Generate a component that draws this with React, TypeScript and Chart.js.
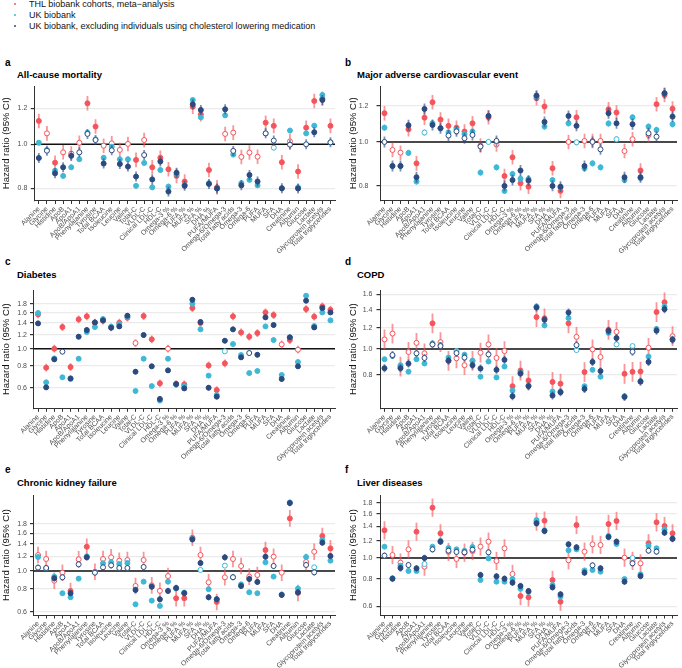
import React, { useEffect, useRef } from 'react';
import { Chart, registerables } from 'chart.js';
Chart.register(...registerables);

const FONT = '"Liberation Sans", Arial, Helvetica, sans-serif';

const categories = ['Alanine', 'Glycine', 'Histidine', 'ApoB', 'ApoA1', 'ApoB/ApoA1', 'Phenylalanine', 'Tyrosine', 'Total BCAA', 'Isoleucine', 'Leucine', 'Valine', 'Total-C', 'VLDL-C', 'Clinical LDL-C', 'HDL-C', 'Omega-3 %', 'Omega-6 %', 'PUFA %', 'MUFA %', 'SFA %', 'DHA %', 'PUFA/MUFA', 'Omega-6/Omega-3', 'Total fatty acids', 'Omega-3', 'Omega-6', 'PUFA', 'MUFA', 'SFA', 'DHA', 'Creatinine', 'Albumin', 'Glucose', 'Lactate', 'Glycoprotein acetyls', 'Total triglycerides'];

const seriesNames = ['THL biobank cohorts, meta\u2212analysis', 'UK biobank', 'UK biobank, excluding individuals using cholesterol lowering medication'];
const seriesColors = ['#F4555C', '#3FB8D6', '#2D4A7F'];
const ciColors = ['rgba(244,85,92,0.62)', 'rgba(63,184,214,0.62)', 'rgba(45,74,127,0.62)'];

// ---- a: All-cause mortality ----
const aTHL = [1.126, 1.057, 0.911, 0.960, 0.954, 1.008, 1.231, 1.094, 0.993, 1.005, 0.972, 1.002, 0.924, 1.022, 0.890, 0.934, 0.881, 0.852, 0.828, 1.210, 1.164, 0.878, 0.804, 1.054, 1.061, 0.938, 0.959, 0.939, 1.116, 1.098, 0.913, 1.015, 0.871, 1.088, 1.246, 1.260, 1.098];
const aUKB = [1.008, 0.972, 0.875, 0.852, 0.890, 0.927, 1.061, 1.025, 0.934, 0.988, 0.927, 0.927, 0.810, 0.910, 0.804, 0.878, 0.807, 0.859, 0.814, 1.252, 1.147, 0.821, 0.799, 1.158, 0.949, 0.821, 0.835, 0.812, 1.057, 0.983, 0.800, 1.072, 0.804, 1.057, 1.099, 1.284, 1.010];
const aUKBx = [0.933, 0.968, 0.863, 0.890, 0.943, 0.960, 1.054, 1.022, 0.907, 0.970, 0.905, 0.893, 0.849, 0.947, 0.837, 0.917, 0.787, 0.866, 0.810, 1.225, 1.190, 0.818, 0.799, 1.194, 0.967, 0.812, 0.856, 0.828, 1.057, 1.019, 0.800, 0.998, 0.799, 1.000, 1.063, 1.252, 1.010];
const aTHLopen = [1, 3, 4, 5, 8, 9, 10, 11, 13, 23, 24, 25, 26, 27, 31];
const aUKBopen = [29];
const aUKBxOpen = [1, 5, 6, 7, 9, 13, 24, 28, 29, 31, 33, 36];

// ---- b: Major adverse cardiovascular event ----
const bTHL = [1.157, 0.960, 0.947, 1.066, 0.897, 1.131, 1.223, 1.120, 1.085, 1.075, 1.054, 1.099, 0.982, 1.133, 0.987, 0.841, 0.925, 0.811, 0.797, 1.248, 1.197, 0.875, 0.780, 1.000, 1.133, 1.005, 1.005, 1.005, 1.180, 1.161, 0.955, 1.014, 0.865, 1.036, 1.211, 1.269, 1.184];
const bUKB = [1.075, 0.885, 0.885, 0.946, 0.818, 1.049, 1.099, 1.072, 1.049, 1.065, 1.040, 1.054, 0.856, 1.000, 0.879, 0.780, 0.850, 0.830, 0.829, 1.259, 1.081, 0.824, 0.793, 1.099, 0.998, 0.875, 0.897, 0.879, 1.098, 1.014, 0.824, 1.133, 0.832, 1.081, 1.063, 1.280, 1.094];
const bUKBx = [1.000, 0.885, 0.885, 1.088, 0.836, 1.182, 1.090, 1.072, 1.033, 1.055, 1.019, 1.036, 0.977, 1.141, 1.005, 0.800, 0.824, 0.865, 0.822, 1.265, 1.107, 0.800, 0.797, 1.141, 1.085, 0.885, 1.000, 0.963, 1.157, 1.099, 0.836, 1.094, 0.836, 1.045, 1.027, 1.280, 1.137];
const bTHLopen = [1, 2, 12, 14, 23, 25, 26, 27, 30, 31, 33];
const bUKBopen = [5, 13, 24, 29];
const bUKBxOpen = [0, 8, 9, 10, 11, 12, 14, 26, 27, 33, 34];

// ---- c: Diabetes ----
const cTHL = [1.567, 0.780, 1.000, 1.328, 0.787, 1.468, 1.527, 1.405, 1.442, 1.322, 1.405, 1.500, 1.077, 1.533, 1.130, 0.636, 1.000, 0.630, 0.627, 1.702, 1.400, 0.804, 0.582, 0.826, 1.527, 1.238, 1.170, 1.227, 1.608, 1.554, 1.058, 1.120, 0.987, 1.680, 1.520, 1.740, 1.666];
const cUKB = [1.595, 0.644, 0.881, 0.688, 0.673, 0.877, 1.244, 1.328, 1.475, 1.334, 1.381, 1.520, 0.575, 0.877, 0.613, 0.507, 0.877, 0.625, 0.613, 1.800, 1.288, 0.703, 0.545, 0.966, 1.063, 0.920, 0.727, 0.747, 1.339, 1.120, 0.709, 1.160, 0.840, 2.000, 1.345, 1.608, 1.449];
const cUKBx = [1.393, 0.603, 0.870, 0.962, 0.678, 1.170, 1.277, 1.411, 1.449, 1.316, 1.339, 1.540, 0.740, 1.196, 0.794, 0.518, 0.753, 0.630, 0.595, 1.898, 1.418, 0.600, 0.534, 1.110, 1.288, 0.893, 0.945, 0.924, 1.507, 1.363, 0.673, 1.160, 0.794, 1.874, 1.322, 1.702, 1.608];
const cTHLopen = [12, 16, 30, 32];
const cUKBopen = [23];
const cUKBxOpen = [3, 26];

// ---- d: COPD ----
const dTHL = [1.086, 1.143, 0.860, 0.975, 1.055, 0.964, 1.248, 1.061, 0.903, 0.923, 0.870, 0.903, 0.969, 1.041, 0.926, 0.983, 0.726, 0.831, 0.763, 1.317, 1.303, 0.753, 0.742, 1.248, 1.111, 0.820, 0.997, 0.934, 1.180, 1.160, 0.808, 0.822, 0.824, 1.011, 1.375, 1.497, 1.117];
const dUKB = [0.916, 0.942, 0.870, 0.823, 0.916, 0.883, 1.050, 1.035, 0.929, 0.983, 0.953, 0.905, 0.788, 0.898, 0.783, 0.860, 0.699, 0.817, 0.730, 1.443, 1.227, 0.693, 0.693, 1.306, 0.991, 0.726, 0.836, 0.788, 1.150, 1.041, 0.665, 1.026, 0.759, 0.937, 1.190, 1.443, 1.090];
const dUKBx = [0.848, 0.950, 0.848, 0.882, 0.964, 0.926, 1.040, 1.026, 0.905, 0.966, 0.929, 0.870, 0.846, 0.955, 0.836, 0.911, 0.666, 0.810, 0.726, 1.431, 1.288, 0.670, 0.689, 1.371, 1.035, 0.709, 0.895, 0.827, 1.170, 1.100, 0.662, 0.977, 0.755, 0.895, 1.172, 1.411, 1.083];
const dTHLopen = [0, 1, 2, 3, 4, 5, 7, 8, 9, 10, 12, 13, 14, 15, 24, 26, 27, 29, 33, 36];
const dUKBopen = [9, 24, 29, 31];
const dUKBxOpen = [1, 4, 5, 6, 7, 9, 10, 13, 24, 31];

// ---- e: Chronic kidney failure ----
const eTHL = [1.221, 1.162, 0.886, 0.979, 0.779, 1.157, 1.355, 0.990, 1.162, 1.186, 1.138, 1.147, 0.829, 1.147, 0.835, 0.780, 0.939, 0.711, 0.711, 1.516, 1.221, 0.868, 0.679, 0.924, 1.162, 1.064, 0.932, 0.951, 1.300, 1.196, 0.979, 1.931, 0.760, 1.120, 1.273, 1.549, 1.327];
const eUKB = [1.191, 1.034, 0.932, 0.757, 0.720, 0.909, 1.201, 0.985, 1.100, 1.114, 1.091, 1.105, 0.659, 0.875, 0.690, 0.646, 0.875, 0.802, 0.763, 1.500, 1.013, 0.796, 0.702, 1.069, 0.924, 0.846, 0.766, 0.757, 1.114, 0.932, 0.745, 2.360, 0.802, 1.191, 1.047, 1.473, 1.138];
const eUKBx = [1.043, 1.038, 0.912, 0.924, 0.757, 1.087, 1.186, 0.979, 1.047, 1.073, 1.038, 1.038, 0.789, 1.051, 0.822, 0.702, 0.779, 0.809, 0.757, 1.485, 1.105, 0.720, 0.702, 1.186, 0.925, 0.829, 0.905, 0.872, 1.196, 1.064, 0.741, 2.338, 0.766, 1.078, 0.983, 1.425, 1.206];
const eTHLopen = [0, 1, 2, 3, 5, 7, 8, 9, 10, 11, 12, 13, 14, 15, 16, 20, 21, 23, 24, 25, 26, 27, 29, 30, 33, 34];
const eUKBopen = [20, 23, 34];
const eUKBxOpen = [0, 1, 3, 5, 7, 8, 9, 10, 11, 13, 24, 29, 33, 34];

// ---- f: Liver diseases ----
const fTHL = [1.341, 1.032, 0.952, 1.096, 1.322, 0.912, 1.706, 1.299, 1.066, 0.990, 1.058, 1.077, 1.128, 1.189, 0.969, 1.108, 0.844, 0.668, 0.659, 1.470, 1.486, 0.792, 0.629, 0.976, 1.419, 1.070, 1.156, 1.148, 1.434, 1.481, 1.004, 0.970, 0.945, 1.170, 1.460, 1.404, 1.299];
const fUKB = [1.128, 0.806, 0.922, 0.871, 0.871, 0.938, 1.128, 1.200, 1.112, 1.096, 1.081, 1.124, 0.792, 0.996, 0.778, 0.778, 0.800, 0.722, 0.697, 1.496, 1.340, 0.751, 0.664, 1.085, 1.096, 0.877, 0.880, 0.865, 1.263, 1.160, 0.800, 1.000, 0.841, 1.140, 1.108, 1.355, 1.227];
const fUKBx = [1.025, 0.803, 0.899, 0.928, 0.896, 1.000, 1.096, 1.189, 1.081, 1.066, 1.062, 1.092, 0.835, 1.062, 0.823, 0.803, 0.770, 0.743, 0.704, 1.444, 1.331, 0.733, 0.680, 1.156, 1.120, 0.856, 0.925, 0.896, 1.250, 1.189, 0.778, 0.945, 0.826, 1.081, 1.070, 1.308, 1.227];
const fTHLopen = [1, 2, 3, 5, 8, 9, 10, 11, 12, 13, 14, 15, 16, 23, 25, 26, 27, 30, 31, 32];
const fUKBopen = [5, 31];
const fUKBxOpen = [0, 3, 6, 8, 9, 10, 11, 13, 26, 31, 33, 34];

type PanelCfg = {
  letter: string; title: string; left: number; width: number; axisX: number; plotRight: number;
  canvasTop: number; canvasBottom: number; plotTop: number; plotBottom: number;
  yMin: number; yMax: number; yTicks: number[]; values: number[][]; open: number[][];
  ci: number[]; tickPad: number; titlePad: number; letterY: number; titleY: number;
};

const panels: PanelCfg[] = [
  { letter: 'a', title: 'All-cause mortality', left: 0, width: 340, axisX: 34.3, plotRight: 335.4,
    canvasTop: 78, canvasBottom: 256, plotTop: 86, plotBottom: 200.5, yMin: 0.752, yMax: 1.344,
    yTicks: [0.8, 1.0, 1.2], values: [aTHL, aUKB, aUKBx], open: [aTHLopen, aUKBopen, aUKBxOpen],
    ci: [0.016, 0.006, 0.011], tickPad: 3.5, titlePad: 0.5, letterY: 63, titleY: 75 },
  { letter: 'b', title: 'Major adverse cardiovascular event', left: 340, width: 342, axisX: 380, plotRight: 681.5,
    canvasTop: 78, canvasBottom: 256, plotTop: 86, plotBottom: 200.5, yMin: 0.743, yMax: 1.328,
    yTicks: [0.8, 1.0, 1.2], values: [bTHL, bUKB, bUKBx], open: [bTHLopen, bUKBopen, bUKBxOpen],
    ci: [0.016, 0.007, 0.012], tickPad: 8, titlePad: 8, letterY: 63, titleY: 75 },
  { letter: 'c', title: 'Diabetes', left: 0, width: 340, axisX: 33.5, plotRight: 335.4,
    canvasTop: 284, canvasBottom: 462, plotTop: 290, plotBottom: 408.3, yMin: 0.4585, yMax: 2.156,
    yTicks: [0.6, 0.8, 1.0, 1.2, 1.4, 1.6, 1.8], values: [cTHL, cUKB, cUKBx], open: [cTHLopen, cUKBopen, cUKBxOpen],
    ci: [0.022, 0.007, 0.015], tickPad: 3, titlePad: 0.5, letterY: 262, titleY: 275 },
  { letter: 'd', title: 'COPD', left: 340, width: 342, axisX: 380, plotRight: 681.5,
    canvasTop: 284, canvasBottom: 462, plotTop: 290, plotBottom: 408.3, yMin: 0.6067, yMax: 1.664,
    yTicks: [0.8, 1.0, 1.2, 1.4, 1.6], values: [dTHL, dUKB, dUKBx], open: [dTHLopen, dUKBopen, dUKBxOpen],
    ci: [0.037, 0.009, 0.015], tickPad: 4, titlePad: 8, letterY: 262, titleY: 275 },
  { letter: 'e', title: 'Chronic kidney failure', left: 0, width: 340, axisX: 33.5, plotRight: 335.4,
    canvasTop: 489, canvasBottom: 668, plotTop: 495, plotBottom: 615, yMin: 0.5765, yMax: 2.588,
    yTicks: [0.6, 0.8, 1.0, 1.2, 1.4, 1.6, 1.8], values: [eTHL, eUKB, eUKBx], open: [eTHLopen, eUKBopen, eUKBxOpen],
    ci: [0.045, 0.010, 0.017], tickPad: 3, titlePad: 0.5, letterY: 470, titleY: 483 },
  { letter: 'f', title: 'Liver diseases', left: 340, width: 342, axisX: 380, plotRight: 681.5,
    canvasTop: 489, canvasBottom: 668, plotTop: 495, plotBottom: 615, yMin: 0.5463, yMax: 1.951,
    yTicks: [0.6, 0.8, 1.0, 1.2, 1.4, 1.6, 1.8], values: [fTHL, fUKB, fUKBx], open: [fTHLopen, fUKBopen, fUKBxOpen],
    ci: [0.042, 0.009, 0.015], tickPad: 4, titlePad: 8, letterY: 470, titleY: 483 },
];

const errPlugin = {
  id: 'errbars',
  beforeDatasetsDraw(chart: any) {
    const { ctx, chartArea, scales } = chart;
    const y1 = scales.y.getPixelForValue(1);
    ctx.save();
    ctx.strokeStyle = '#111';
    ctx.lineWidth = 1.5;
    ctx.beginPath();
    ctx.moveTo(chartArea.left, y1);
    ctx.lineTo(chartArea.right, y1);
    ctx.stroke();
    ctx.restore();
  },
  beforeDatasetDraw(chart: any, args: any) {
    const { ctx, chartArea, scales } = chart;
    const ds = chart.data.datasets[args.index];
    const f = Math.pow(10, ds.ciHalf);
    ctx.save();
    ctx.beginPath();
    ctx.rect(chartArea.left, chartArea.top, chartArea.right - chartArea.left, chartArea.bottom - chartArea.top);
    ctx.clip();
    ctx.strokeStyle = ds.ciColor;
    ctx.lineWidth = 1.8;
    ds.data.forEach((pt: any) => {
      const px = scales.x.getPixelForValue(pt.x);
      const lo = scales.y.getPixelForValue(pt.y / f);
      const hi = scales.y.getPixelForValue(pt.y * f);
      ctx.beginPath();
      ctx.moveTo(px, lo);
      ctx.lineTo(px, hi);
      ctx.stroke();
    });
    ctx.restore();
  },
};

function Panel({ p }: { p: PanelCfg }) {
  const ref = useRef<HTMLCanvasElement | null>(null);
  useEffect(() => {
    const canvas = ref.current;
    if (!canvas) return;
    const datasets = [2, 1, 0].map((si) => ({
      label: seriesNames[si],
      data: p.values[si].map((v, i) => ({ x: i, y: v })),
      showLine: false,
      pointRadius: 2.5,
      pointBorderWidth: 1,
      pointBackgroundColor: p.values[si].map((_, i) => (p.open[si].includes(i) ? '#ffffff' : seriesColors[si])),
      pointBorderColor: seriesColors[si],
      ciHalf: p.ci[si],
      ciColor: ciColors[si],
    }));
    const chart = new Chart(canvas, {
      type: 'scatter',
      data: { datasets } as any,
      options: {
        animation: false,
        responsive: false,
        devicePixelRatio: 1,
        events: [],
        layout: { padding: { top: p.plotTop - p.canvasTop, left: 0, right: p.left + p.width - p.plotRight, bottom: 0 } },
        plugins: { legend: { display: false }, tooltip: { enabled: false } },
        scales: {
          x: {
            type: 'linear', min: -0.56, max: 36.56,
            afterBuildTicks: (s: any) => { s.ticks = categories.map((_, i) => ({ value: i })); },
            afterFit: (s: any) => { s.height = p.canvasBottom - p.plotBottom; s.paddingLeft = 0; s.paddingRight = 0; },
            ticks: { autoSkip: false, maxRotation: 45, minRotation: 45, font: { size: 7, family: FONT }, color: '#4d4d4d', padding: 1,
              callback: (v: any) => categories[v] },
            grid: { drawOnChartArea: false, drawTicks: true, tickLength: 3.5, tickColor: '#333', color: '#333' },
            border: { display: true, color: '#333', width: 1 },
          },
          y: {
            type: 'logarithmic', min: p.yMin, max: p.yMax,
            afterBuildTicks: (s: any) => { s.ticks = p.yTicks.map((v) => ({ value: v })); },
            afterFit: (s: any) => { s.width = p.axisX - p.left; s.paddingTop = 0; s.paddingBottom = 0; },
            ticks: { font: { size: 7, family: FONT }, color: '#4d4d4d', padding: p.tickPad, callback: (v: any) => Number(v).toFixed(1) },
            grid: { color: '#ebebeb', lineWidth: 1.2, drawTicks: true, tickLength: 3.5, tickColor: '#333' },
            border: { display: true, color: '#333', width: 1 },
            title: { display: true, text: 'Hazard ratio (95% CI)', font: { size: 9.5, family: FONT }, color: '#111', padding: { top: p.titlePad, bottom: 0 } },
          },
        },
      } as any,
      plugins: [errPlugin],
    });
    return () => chart.destroy();
  }, []);
  return (
    <canvas ref={ref} width={p.width} height={p.canvasBottom - p.canvasTop}
      style={{ position: 'absolute', left: p.left, top: p.canvasTop, width: p.width, height: p.canvasBottom - p.canvasTop }} />
  );
}

export default function App() {
  return (
    <div style={{ position: 'absolute', left: 0, top: 0, width: 682, height: 668, background: '#fff', fontFamily: FONT, overflow: 'hidden' }}>
      {seriesNames.map((n, i) => (
        <div key={n}>
          <div style={{ position: 'absolute', left: 13.7, top: 4 + i * 11 - 1.4, width: 2.8, height: 2.8, borderRadius: '50%', background: seriesColors[i] }} />
          <div style={{ position: 'absolute', left: 29, top: 4 + i * 11 - 5.5, fontSize: 9, lineHeight: '11px', color: '#111', whiteSpace: 'nowrap' }}>{n}</div>
        </div>
      ))}
      {panels.map((p) => (
        <React.Fragment key={p.letter}>
          <div style={{ position: 'absolute', left: p.left + 5, top: p.letterY - 6, fontSize: 10, lineHeight: '12px', fontWeight: 'bold', color: '#000' }}>{p.letter}</div>
          <div style={{ position: 'absolute', left: p.left + 17, top: p.titleY - 6, fontSize: 9.5, lineHeight: '12px', fontWeight: 'bold', color: '#000', whiteSpace: 'nowrap' }}>{p.title}</div>
          <Panel p={p} />
        </React.Fragment>
      ))}
    </div>
  );
}
